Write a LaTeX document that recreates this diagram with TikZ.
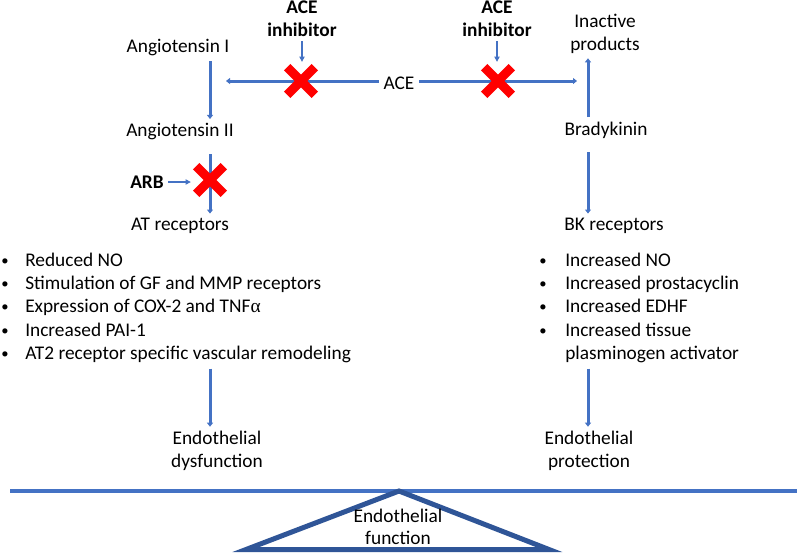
\documentclass[tikz,border=0pt]{standalone}
\usepackage{fontspec}
\setmainfont{Carlito}
\newfontfamily\symgreek{Liberation Serif}
\usetikzlibrary{arrows.meta,shapes.misc}
\definecolor{slblue}{HTML}{4472C4}
\definecolor{dkblue}{HTML}{2F5597}
\tikzset{
  lbl/.style={align=center, font=\fontsize{14.5}{17}\selectfont},
  boldlbl/.style={lbl, font=\fontsize{14.5}{17}\selectfont\bfseries},
  itemtxt/.style={anchor=base west, inner sep=0pt, font=\fontsize{14.5}{17}\selectfont},
  bulletmark/.style={anchor=base, inner sep=0pt, font=\fontsize{11}{13}\selectfont},
  flowline/.style={slblue, line width=2.25pt, -{Triangle[length=3pt,width=4.5pt]}},
  hintarrow/.style={slblue, line width=0.9pt, -{Triangle[length=4pt,width=4pt]}},
  redcross/.style={cross out, draw=red, line width=6.75pt, minimum size=14pt, inner sep=0pt}
}
\begin{document}
\begin{tikzpicture}[x=0.75pt,y=-0.75pt]
\useasboundingbox (0,0) rectangle (797,558);
\coordinate (lx) at (210,0);
\coordinate (rx) at (588,0);
\coordinate (aceL) at (226,81);
\coordinate (aceR) at (577,81);
\node[boldlbl] (inhL) at (302,19) {ACE\\inhibitor};
\node[boldlbl] (inhR) at (497,19) {ACE\\inhibitor};
\node[lbl] (angI) at (178,48) {Angiotensin I};
\node[lbl] (ace) at (399,83) {ACE};
\node[lbl] (inact) at (605,34) {Inactive\\products};
\node[lbl] (angII) at (180,132) {Angiotensin II};
\node[lbl] (brady) at (606,130) {Bradykinin};
\node[boldlbl] (arb) at (147,182) {ARB};
\node[lbl] (atr) at (180,226) {AT receptors};
\node[lbl] (bkr) at (614,226) {BK receptors};
\foreach \txt [count=\i] in {Reduced NO, Stimulation of GF and MMP receptors, Expression of COX-2 and TNF{\symgreek α}, Increased PAI-1, AT2 receptor specific vascular remodeling}{
  \node[itemtxt] (l\i) at (25,{266+23.4*(\i-1)}) {\txt};
  \node[bulletmark] (bl\i) at (5,{265+23.4*(\i-1)}) {\textbullet};
}
\foreach \txt [count=\i] in {Increased NO, Increased prostacyclin, Increased EDHF, Increased tissue, plasminogen activator}{
  \node[itemtxt] (r\i) at (565,{266+23.4*(\i-1)}) {\txt};
}
\foreach \i in {1,...,4}{
  \node[bulletmark] (br\i) at (543,{265+23.4*(\i-1)}) {\textbullet};
}
\node[lbl] (dysf) at (217,451) {Endothelial\\dysfunction};
\node[lbl] (prot) at (589,451) {Endothelial\\protection};
\draw[flowline] (angI.south -| lx) -- (angII.north -| lx);
\draw[flowline, shorten <=7pt] (angII.south -| lx) -- (atr.north -| lx);
\draw[flowline, shorten <=4pt] (l5.south -| lx) -- (dysf.north -| lx);
\draw[flowline] (ace.west |- aceL) -- (aceL);
\draw[flowline] (ace.east |- aceR) -- (aceR);
\draw[flowline] (brady.north -| rx) -- (inact.south -| rx);
\draw[flowline, shorten <=7pt] (brady.south -| rx) -- (bkr.north -| rx);
\draw[flowline, shorten <=4pt] (r5.south -| rx) -- (prot.north -| rx);
\node[redcross] (xl) at (301,81) {};
\node[redcross] (xr) at (498,81) {};
\node[redcross] (xa) at (210,180) {};
\draw[hintarrow, shorten >=4pt] (inhL.south) -- (inhL.south |- xl.north);
\draw[hintarrow, shorten >=4pt] (inhR.south) -- (inhR.south |- xr.north);
\draw[hintarrow, shorten >=4pt] (arb.east) -- (xa.west |- arb.east);
\draw[slblue, line width=3pt] (10,491) -- (797,491);
\draw[dkblue, line width=3.75pt, line join=miter] (399,491) -- (549,549.5) -- (246,549.5) -- cycle;
\node[lbl] (ef) at (398,527) {Endothelial\\function};
\end{tikzpicture}
\end{document}
